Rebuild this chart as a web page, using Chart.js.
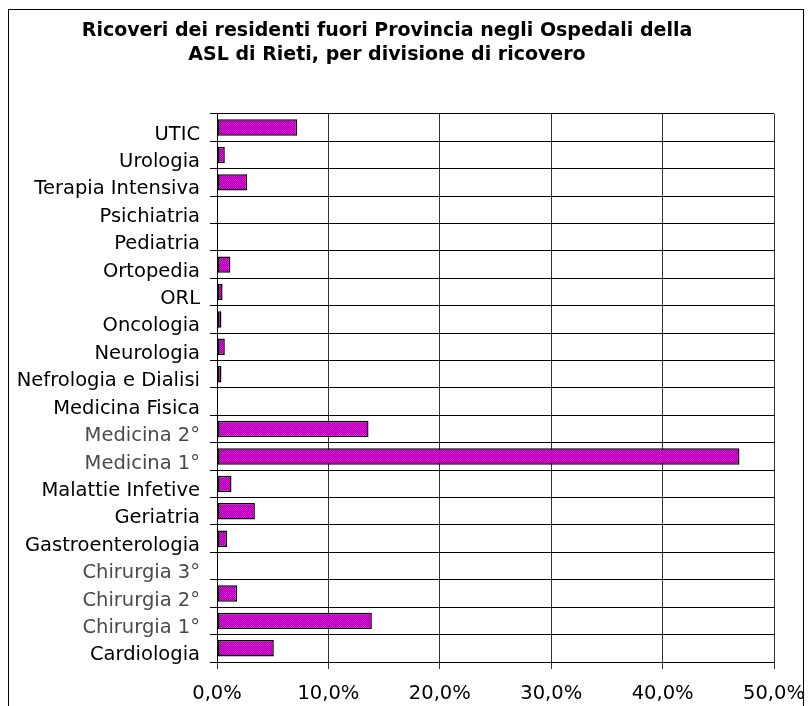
<!DOCTYPE html>
<html>
<head>
<meta charset="utf-8">
<script src="https://cdn.jsdelivr.net/npm/chart.js@4"></script>
<style>
  html, body { margin: 0; padding: 0; background: #fff; }
  #box { width: 808px; height: 706px; }
</style>
</head>
<body>
<div id="box"><canvas id="grafico" width="808" height="706"></canvas></div>
<script>
// Dati (dall'alto verso il basso)
const divisioni = ['UTIC', 'Urologia', 'Terapia Intensiva', 'Psichiatria', 'Pediatria',
  'Ortopedia', 'ORL', 'Oncologia', 'Neurologia', 'Nefrologia e Dialisi', 'Medicina Fisica',
  'Medicina 2°', 'Medicina 1°', 'Malattie Infetive', 'Geriatria', 'Gastroenterologia',
  'Chirurgia 3°', 'Chirurgia 2°', 'Chirurgia 1°', 'Cardiologia'];
const percentuali = [7.2, 0.7, 2.7, 0, 0, 1.2, 0.5, 0.4, 0.7, 0.4, 0,
  13.6, 46.9, 1.3, 3.4, 0.9, 0, 1.8, 13.9, 5.1];
const titolo = ['Ricoveri dei residenti fuori Provincia negli Ospedali della',
  'ASL di Rieti, per divisione di ricovero'];
const tickMin = 0, tickMax = 50, tickStep = 10;

// retino magenta delle barre (scacchiera chiaro/scuro)
function creaRetino() {
  const c = document.createElement('canvas');
  c.width = 2; c.height = 2;
  const g = c.getContext('2d');
  g.fillStyle = '#ff00ff';
  g.fillRect(0, 0, 2, 2);
  g.fillStyle = '#8a008a';
  g.fillRect(1, 0, 1, 1);
  g.fillRect(0, 1, 1, 1);
  return g.createPattern(c, 'repeat');
}

// cornice esterna come nell'originale
const cornice = {
  id: 'cornice',
  beforeDraw(chart) {
    const ctx = chart.ctx;
    ctx.save();
    ctx.fillStyle = '#fff';
    ctx.fillRect(0, 0, chart.width, chart.height);
    ctx.strokeStyle = '#000';
    ctx.lineWidth = 1;
    ctx.strokeRect(8.5, 9.5, 795, 720);
    ctx.restore();
  }
};

const fontBase = "'DejaVu Sans', Verdana, sans-serif";

new Chart(document.getElementById('grafico'), {
  type: 'bar',
  data: {
    labels: divisioni,
    datasets: [{
      data: percentuali,
      backgroundColor: creaRetino(),
      borderColor: '#000',
      borderWidth: 1.5,
      borderSkipped: false,
      barPercentage: 0.6,
      categoryPercentage: 1
    }]
  },
  options: {
    indexAxis: 'y',
    responsive: false,
    animation: false,
    layout: { padding: { left: 0, right: 34, top: 0, bottom: 0 } },
    plugins: {
      legend: { display: false },
      tooltip: { enabled: false },
      title: {
        display: true,
        text: titolo,
        color: '#000',
        font: { family: fontBase, size: 19, weight: 'bold', lineHeight: 1.26 },
        padding: { top: 19, bottom: 47 }
      }
    },
    scales: {
      x: {
        min: tickMin,
        max: tickMax,
        afterFit(scale) {
          scale.height = 44;
          scale.paddingLeft = 0;
          scale.paddingRight = 0;
        },
        ticks: {
          stepSize: tickStep,
          color: '#000',
          padding: 13,
          font: { family: fontBase, size: 19.5 },
          callback: v => v.toFixed(1).replace('.', ',') + '%'
        },
        grid: { color: '#333', lineWidth: 1, tickLength: 7, drawTicks: true },
        border: { color: '#000', width: 1 }
      },
      y: {
        afterFit(scale) { scale.width = 217; },
        ticks: {
          color: ctx => (String(ctx.tick.label).indexOf('°') >= 0 ? '#4a4a4a' : '#000'),
          padding: 10,
          labelOffset: 7,
          font: { family: fontBase, size: 19.5 }
        },
        grid: { color: '#000', lineWidth: 1, tickLength: 7, offset: true },
        border: { color: '#000', width: 1 }
      }
    }
  },
  plugins: [cornice]
});
</script>
</body>
</html>
